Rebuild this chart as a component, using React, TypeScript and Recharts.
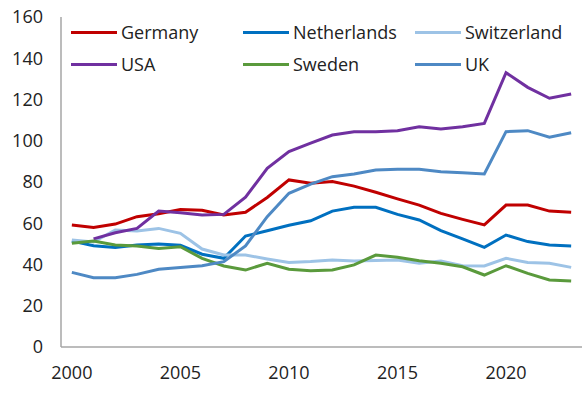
import React from "react";
import { LineChart, Line, XAxis, YAxis } from "recharts";

const years = [2000,2001,2002,2003,2004,2005,2006,2007,2008,2009,2010,2011,2012,2013,2014,2015,2016,2017,2018,2019,2020,2021,2022,2023];
const germany = [59.2,58,59.6,63.2,64.6,66.7,66.3,64,65.3,72.5,81,79.4,80.2,78,75,71.8,68.8,64.8,61.9,59.2,68.8,68.8,65.9,65.3];
const netherlands = [51.4,49.1,48.3,49.4,49.9,49.3,45,43,53.8,56.4,59,61.2,65.9,67.7,67.7,64.3,61.6,56.4,52.4,48.3,54.3,51.1,49.5,49];
const switzerland = [51.9,50.9,56.7,56.2,57.5,55.1,47.5,44.6,44.6,42.7,41,41.4,42.2,41.7,41.9,42.2,40.6,41.7,39.4,39.3,43,41,40.6,38.6];
const usa = [null,52.4,55.4,57.5,65.9,65.1,64,64.3,72.6,86.6,94.7,98.8,102.8,104.4,104.4,104.9,106.8,105.7,106.8,108.4,133,125.9,120.6,122.7];
const sweden = [50.3,51.4,49.5,49,47.8,48.6,43,39.3,37.3,40.6,37.7,37,37.3,39.8,44.6,43.5,41.8,40.6,38.9,34.9,39.4,35.7,32.5,32];
const uk = [36.2,33.6,33.6,35.2,37.7,38.6,39.4,41.4,49,63.2,74.5,79,82.6,83.9,85.8,86.2,86.2,85,84.5,83.9,104.4,104.9,101.7,103.9];
const yTicks = [0,20,40,60,80,100,120,140,160];

const series = [
  { key: "germany", name: "Germany", color: "#C00000", values: germany },
  { key: "netherlands", name: "Netherlands", color: "#0070C0", values: netherlands },
  { key: "switzerland", name: "Switzerland", color: "#9DC3E6", values: switzerland },
  { key: "usa", name: "USA", color: "#7030A0", values: usa },
  { key: "sweden", name: "Sweden", color: "#5A9A3C", values: sweden },
  { key: "uk", name: "UK", color: "#4E89C4", values: uk },
];

const data = years.map((y, i) => {
  const row: any = { year: y };
  series.forEach((s) => { row[s.key] = s.values[i]; });
  return row;
});

const FONT = "'Open Sans', sans-serif";
const colX = [71, 243, 415];
const rowY = [32, 64];

const LegendOverlay = () => (
  <div style={{ position: "absolute", left: 0, top: 0, width: 585, height: 80, pointerEvents: "none" }}>
    {series.map((s, i) => {
      const cx = colX[i % 3];
      const cy = rowY[Math.floor(i / 3)];
      return (
        <div key={s.key}>
          <div style={{ position: "absolute", left: cx, top: cy - 1.5, width: 46, height: 3, background: s.color }} />
          <div style={{ position: "absolute", left: cx + 50, top: cy - 13, height: 26, lineHeight: "26px", fontSize: 18, fontFamily: FONT, color: "#222", whiteSpace: "nowrap" }}>{s.name}</div>
        </div>
      );
    })}
  </div>
);

export default function App() {
  return (
    <div style={{ position: "absolute", left: 0, top: 0, width: 585, height: 396, background: "#fff" }}>
      <LineChart width={585} height={396} data={data} margin={{ top: 17, right: 3, bottom: 19, left: 0 }}>
        <XAxis
          dataKey="year"
          interval={4}
          tickLine={false}
          tickSize={0}
          tickMargin={19}
          padding={{ left: 10.85, right: 10.85 }}
          height={30}
          axisLine={{ stroke: "#A6A6A6", strokeWidth: 1.5 }}
          tick={{ fontSize: 18, fontFamily: FONT, fill: "#222" }}
        />
        <YAxis
          type="number"
          domain={[0, 160]}
          ticks={yTicks}
          width={61}
          tickLine={false}
          tickSize={0}
          tickMargin={18}
          axisLine={{ stroke: "#A6A6A6", strokeWidth: 1.5 }}
          tick={{ fontSize: 18, fontFamily: FONT, fill: "#222" }}
        />
        {series.map((s) => (
          <Line
            key={s.key}
            dataKey={s.key}
            name={s.name}
            stroke={s.color}
            strokeWidth={3}
            dot={false}
            activeDot={false}
            isAnimationActive={false}
            connectNulls={false}
          />
        ))}
      </LineChart>
      <LegendOverlay />
    </div>
  );
}
